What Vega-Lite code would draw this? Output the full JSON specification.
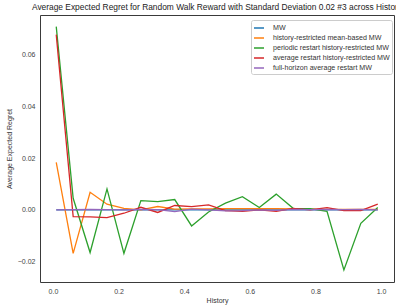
{
  "$schema": "https://vega.github.io/schema/vega-lite/v6.json",
  "width": 354,
  "height": 267,
  "autosize": {"type": "none"},
  "padding": {"left": 40, "top": 15, "right": 2, "bottom": 25},
  "background": "white",
  "title": {
    "text": "Average Expected Regret for Random Walk Reward with Standard Deviation 0.02 #3 across History",
    "font": "Liberation Sans",
    "fontSize": 8.4,
    "fontWeight": "normal",
    "color": "#222",
    "anchor": "middle",
    "offset": 4
  },
  "data": {
    "values": [
      {"x": 0.0100, "MW": 0, "history-restricted mean-based MW": 0.0184, "periodic restart history-restricted MW": 0.0709, "average restart history-restricted MW": 0.0678, "full-horizon average restart MW": 0.0000},
      {"x": 0.0616, "MW": 0, "history-restricted mean-based MW": -0.0168, "periodic restart history-restricted MW": 0.0045, "average restart history-restricted MW": -0.0026, "full-horizon average restart MW": 0.0001},
      {"x": 0.1132, "MW": 0, "history-restricted mean-based MW": 0.0068, "periodic restart history-restricted MW": -0.0165, "average restart history-restricted MW": -0.0027, "full-horizon average restart MW": 0.0002},
      {"x": 0.1647, "MW": 0, "history-restricted mean-based MW": 0.0022, "periodic restart history-restricted MW": 0.0081, "average restart history-restricted MW": -0.0030, "full-horizon average restart MW": 0.0001},
      {"x": 0.2163, "MW": 0, "history-restricted mean-based MW": 0.0006, "periodic restart history-restricted MW": -0.0168, "average restart history-restricted MW": -0.0013, "full-horizon average restart MW": 0.0000},
      {"x": 0.2679, "MW": 0, "history-restricted mean-based MW": 0.0000, "periodic restart history-restricted MW": 0.0036, "average restart history-restricted MW": 0.0010, "full-horizon average restart MW": 0.0002},
      {"x": 0.3195, "MW": 0, "history-restricted mean-based MW": 0.0013, "periodic restart history-restricted MW": 0.0032, "average restart history-restricted MW": -0.0010, "full-horizon average restart MW": 0.0001},
      {"x": 0.3711, "MW": 0, "history-restricted mean-based MW": 0.0003, "periodic restart history-restricted MW": 0.0040, "average restart history-restricted MW": 0.0017, "full-horizon average restart MW": -0.0007},
      {"x": 0.4226, "MW": 0, "history-restricted mean-based MW": 0.0004, "periodic restart history-restricted MW": -0.0062, "average restart history-restricted MW": 0.0013, "full-horizon average restart MW": 0.0003},
      {"x": 0.4742, "MW": 0, "history-restricted mean-based MW": 0.0004, "periodic restart history-restricted MW": -0.0008, "average restart history-restricted MW": 0.0019, "full-horizon average restart MW": 0.0000},
      {"x": 0.5258, "MW": 0, "history-restricted mean-based MW": 0.0005, "periodic restart history-restricted MW": 0.0026, "average restart history-restricted MW": -0.0003, "full-horizon average restart MW": -0.0004},
      {"x": 0.5774, "MW": 0, "history-restricted mean-based MW": 0.0005, "periodic restart history-restricted MW": 0.0051, "average restart history-restricted MW": -0.0006, "full-horizon average restart MW": -0.0003},
      {"x": 0.6289, "MW": 0, "history-restricted mean-based MW": 0.0005, "periodic restart history-restricted MW": 0.0009, "average restart history-restricted MW": 0.0000, "full-horizon average restart MW": 0.0000},
      {"x": 0.6805, "MW": 0, "history-restricted mean-based MW": 0.0005, "periodic restart history-restricted MW": 0.0061, "average restart history-restricted MW": -0.0006, "full-horizon average restart MW": -0.0002},
      {"x": 0.7321, "MW": 0, "history-restricted mean-based MW": 0.0004, "periodic restart history-restricted MW": 0.0006, "average restart history-restricted MW": 0.0006, "full-horizon average restart MW": 0.0002},
      {"x": 0.7837, "MW": 0, "history-restricted mean-based MW": 0.0003, "periodic restart history-restricted MW": 0.0005, "average restart history-restricted MW": 0.0000, "full-horizon average restart MW": 0.0001},
      {"x": 0.8353, "MW": 0, "history-restricted mean-based MW": 0.0002, "periodic restart history-restricted MW": -0.0006, "average restart history-restricted MW": 0.0009, "full-horizon average restart MW": 0.0002},
      {"x": 0.8868, "MW": 0, "history-restricted mean-based MW": 0.0002, "periodic restart history-restricted MW": -0.0232, "average restart history-restricted MW": -0.0003, "full-horizon average restart MW": 0.0001},
      {"x": 0.9384, "MW": 0, "history-restricted mean-based MW": 0.0002, "periodic restart history-restricted MW": -0.0052, "average restart history-restricted MW": -0.0003, "full-horizon average restart MW": 0.0002},
      {"x": 0.9900, "MW": 0, "history-restricted mean-based MW": 0.0002, "periodic restart history-restricted MW": 0.0009, "average restart history-restricted MW": 0.0022, "full-horizon average restart MW": 0.0000}
    ]
  },
  "transform": [
    {"fold": ["MW", "history-restricted mean-based MW", "periodic restart history-restricted MW", "average restart history-restricted MW", "full-horizon average restart MW"], "as": ["series", "y"]}
  ],
  "mark": {"type": "line", "strokeWidth": 1.3, "clip": true},
  "encoding": {
    "x": {
      "field": "x", "type": "quantitative", "title": "History",
      "scale": {"domain": [-0.0395, 1.0395], "nice": false, "zero": false},
      "axis": {"values": [0, 0.2, 0.4, 0.6, 0.8, 1.0], "format": ".1f", "grid": false, "ticks": false, "domain": false, "labelPadding": 5, "titlePadding": 2}
    },
    "y": {
      "field": "y", "type": "quantitative", "title": "Average Expected Regret",
      "scale": {"domain": [-0.0279, 0.0754], "nice": false, "zero": false},
      "axis": {"values": [-0.02, 0, 0.02, 0.04, 0.06], "format": ".2f", "grid": false, "ticks": false, "domain": false, "labelPadding": 5, "titlePadding": 5}
    },
    "color": {
      "field": "series", "type": "nominal",
      "scale": {
        "domain": ["MW", "history-restricted mean-based MW", "periodic restart history-restricted MW", "average restart history-restricted MW", "full-horizon average restart MW"],
        "range": ["#1f77b4", "#ff7f0e", "#2ca02c", "#d62728", "#9467bd"]
      },
      "legend": {
        "title": null,
        "orient": "none",
        "legendX": 211,
        "legendY": 5,
        "symbolType": "stroke",
        "symbolSize": 100,
        "symbolStrokeWidth": 1.5,
        "labelFontSize": 7.1,
        "labelFont": "Liberation Sans",
        "labelColor": "#333",
        "labelOffset": 8,
        "rowPadding": 0,
        "padding": 2,
        "strokeColor": "#cccccc",
        "fillColor": "white",
        "cornerRadius": 2
      }
    }
  },
  "config": {
    "font": "Liberation Sans",
    "view": {"stroke": "#3a3a3a", "strokeWidth": 1},
    "axis": {"labelFontSize": 7, "titleFontSize": 7, "titleFontWeight": "normal", "labelColor": "#444", "titleColor": "#333", "labelFont": "Liberation Sans", "titleFont": "Liberation Sans"}
  }
}
